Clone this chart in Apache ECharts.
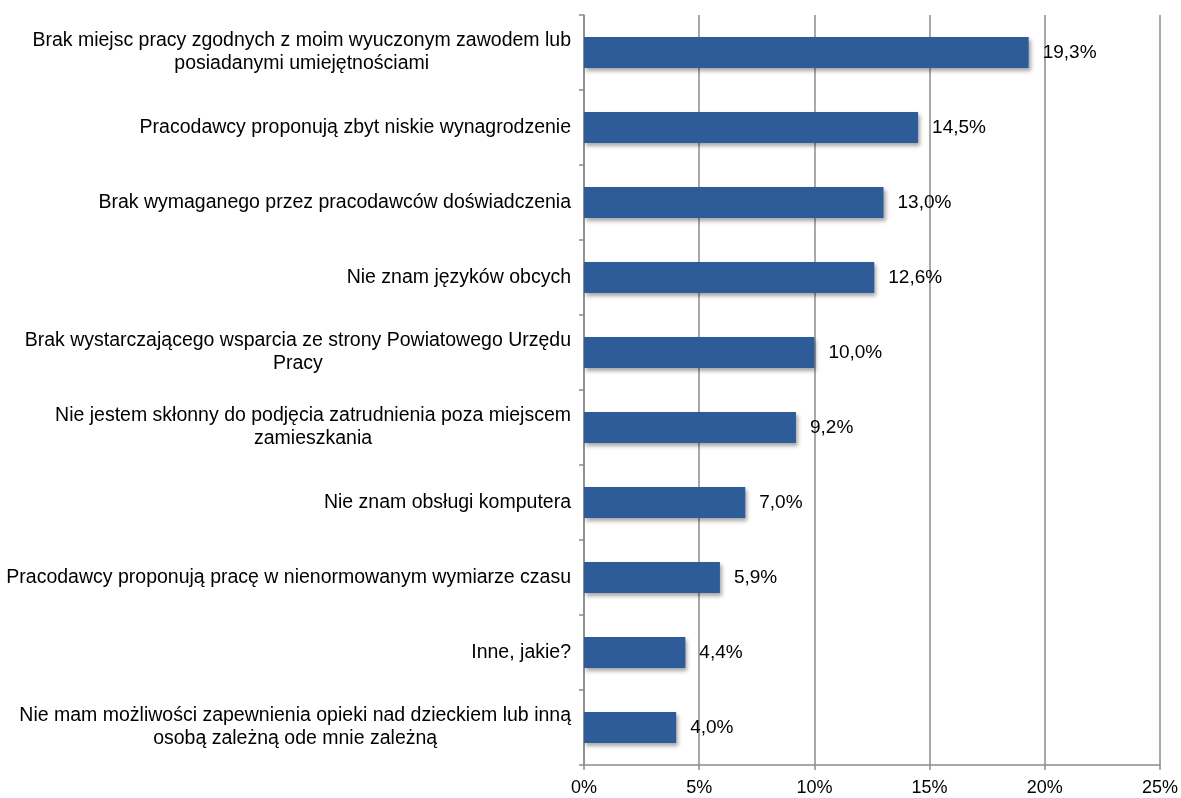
<!DOCTYPE html>
<html>
<head>
<meta charset="utf-8">
<script src="https://cdn.jsdelivr.net/npm/echarts@6/dist/echarts.min.js"></script>
<style>
  html, body { margin: 0; padding: 0; background: #fff; }
  #chart { width: 1181px; height: 798px; }
</style>
</head>
<body>
<div id="chart"></div>
<script>
// kategorie (od góry)
var categories = [
  "Brak miejsc pracy zgodnych z moim wyuczonym zawodem lub\nposiadanymi umiejętnościami",
  "Pracodawcy proponują zbyt niskie wynagrodzenie",
  "Brak wymaganego przez pracodawców doświadczenia",
  "Nie znam języków obcych",
  "Brak wystarczającego wsparcia ze strony Powiatowego Urzędu\nPracy",
  "Nie jestem skłonny do podjęcia zatrudnienia poza miejscem\nzamieszkania",
  "Nie znam obsługi komputera",
  "Pracodawcy proponują pracę w nienormowanym wymiarze czasu",
  "Inne, jakie?",
  "Nie mam możliwości zapewnienia opieki nad dzieckiem lub inną\nosobą zależną ode mnie zależną"
];
// wartości w %
var values = [19.3, 14.5, 13.0, 12.6, 10.0, 9.2, 7.0, 5.9, 4.4, 4.0];
// oś x
var xMin = 0, xMax = 25, xStep = 5;

var FONT = "'Liberation Sans', Arial, sans-serif";

var chart = echarts.init(document.getElementById("chart"));
chart.setOption({
  animation: false,
  backgroundColor: "#fff",
  grid: { left: 584, right: 21, top: 15, bottom: 33 },
  xAxis: {
    type: "value",
    min: xMin,
    max: xMax,
    interval: xStep,
    axisLine: { show: true, lineStyle: { color: "#8c8c8c", width: 1.5 } },
    axisTick: { show: true, length: 5, lineStyle: { color: "#8c8c8c", width: 1.5 } },
    axisLabel: {
      color: "#000",
      fontSize: 18,
      fontFamily: FONT,
      margin: 14,
      formatter: function (v) { return v + "%"; }
    },
    splitLine: { show: true, lineStyle: { color: "#8c8c8c", width: 1.5 } }
  },
  yAxis: {
    type: "category",
    inverse: true,
    data: categories,
    axisLine: { show: true, lineStyle: { color: "#8c8c8c", width: 1.5 } },
    axisTick: { show: true, length: 5, lineStyle: { color: "#8c8c8c", width: 1.5 } },
    axisLabel: {
      margin: 13,
      color: "#000",
      fontSize: 19.5,
      fontFamily: FONT,
      formatter: function (v) {
        // linie wyśrodkowane w bloku
        return v.split("\n").map(function (s) { return "{c|" + s + "}"; }).join("\n");
      },
      rich: {
        c: { align: "center", fontSize: 19.5, fontFamily: FONT, color: "#000", lineHeight: 23 }
      }
    }
  },
  series: [{
    type: "bar",
    data: values,
    barWidth: 31,
    itemStyle: {
      color: "#2d5c98",
      shadowColor: "rgba(0,0,0,0.35)",
      shadowBlur: 4,
      shadowOffsetX: 2,
      shadowOffsetY: 3
    },
    label: {
      show: true,
      position: "right",
      distance: 14,
      color: "#000",
      fontSize: 19,
      fontFamily: FONT,
      formatter: function (p) { return p.value.toFixed(1).replace(".", ",") + "%"; }
    }
  }]
});
</script>
</body>
</html>
